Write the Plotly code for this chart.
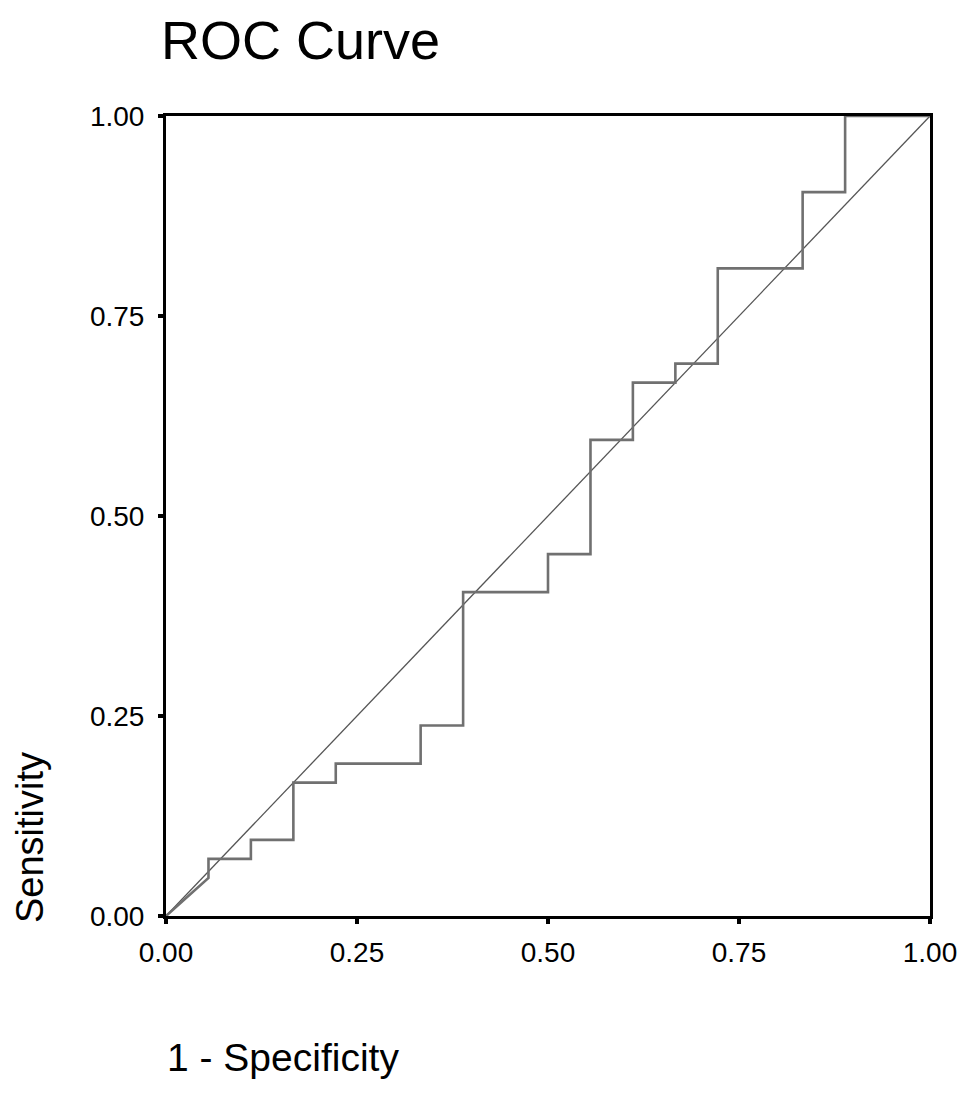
import plotly.graph_objects as go

# ROC step curve (1 - specificity, sensitivity)
fpr = [0.0, 0.0556, 0.0556, 0.1111, 0.1111, 0.1667, 0.1667, 0.2222, 0.2222, 0.3333, 0.3333,
       0.3889, 0.3889, 0.5000, 0.5000, 0.5556, 0.5556, 0.6111, 0.6111, 0.6667, 0.6667,
       0.7222, 0.7222, 0.8333, 0.8333, 0.8889, 0.8889, 1.0]
tpr = [0.0, 0.0476, 0.0714, 0.0714, 0.0952, 0.0952, 0.1667, 0.1667, 0.1905, 0.1905, 0.2381,
       0.2381, 0.4048, 0.4048, 0.4524, 0.4524, 0.5952, 0.5952, 0.6667, 0.6667, 0.6905,
       0.6905, 0.8095, 0.8095, 0.9048, 0.9048, 1.0, 1.0]

ref_x = [0.0, 1.0]
ref_y = [0.0, 1.0]

tick_vals = [0.0, 0.25, 0.5, 0.75, 1.0]
tick_text = ["0.00", "0.25", "0.50", "0.75", "1.00"]

FONT = "Liberation Sans"

# page body has an 8px margin; figure sized to fit the window without scrollbars
W, H = 953, 1078
L, T = 158, 108
PW, PH = 764, 800

fig = go.Figure()
fig.add_trace(go.Scatter(x=ref_x, y=ref_y, mode="lines",
                         line=dict(color="#555555", width=1.3),
                         cliponaxis=False, showlegend=False, hoverinfo="skip"))
fig.add_trace(go.Scatter(x=fpr, y=tpr, mode="lines",
                         line=dict(color="#707070", width=2.6),
                         cliponaxis=False, showlegend=False))

axis_common = dict(range=[0, 1], showgrid=False, zeroline=False,
                   showline=True, linecolor="black", linewidth=3, mirror=True,
                   ticks="outside", ticklen=5, tickwidth=4, tickcolor="black",
                   tickvals=tick_vals, ticktext=tick_text,
                   tickfont=dict(family=FONT, size=28, color="black"),
                   layer="below traces", automargin=False)

fig.update_xaxes(**axis_common)
fig.update_yaxes(**axis_common)
fig.update_yaxes(ticklabelstandoff=8)
fig.update_xaxes(ticklabelstandoff=4)

fig.update_layout(
    width=W, height=H,
    margin=dict(l=L, r=W - L - PW, t=T, b=H - T - PH, autoexpand=False),
    plot_bgcolor="white", paper_bgcolor="white",
    title=dict(text="ROC Curve", font=dict(family=FONT, size=54, color="black"),
               xref="container", x=153 / W, xanchor="left",
               yref="container", y=1 - 32 / H, yanchor="middle"),
    annotations=[
        dict(text="1 - Specificity", xref="paper", yref="paper",
             x=(157 - L) / PW, y=-(1049 - T - PH) / PH, xanchor="left", yanchor="middle",
             showarrow=False, font=dict(family=FONT, size=39, color="black")),
        dict(text="Sensitivity", xref="paper", yref="paper", textangle=-90,
             x=(22 - L) / PW, y=1 - (830 - T) / PH, xanchor="center", yanchor="middle",
             showarrow=False, font=dict(family=FONT, size=38, color="black")),
    ],
)

fig.write_html("out.html")
